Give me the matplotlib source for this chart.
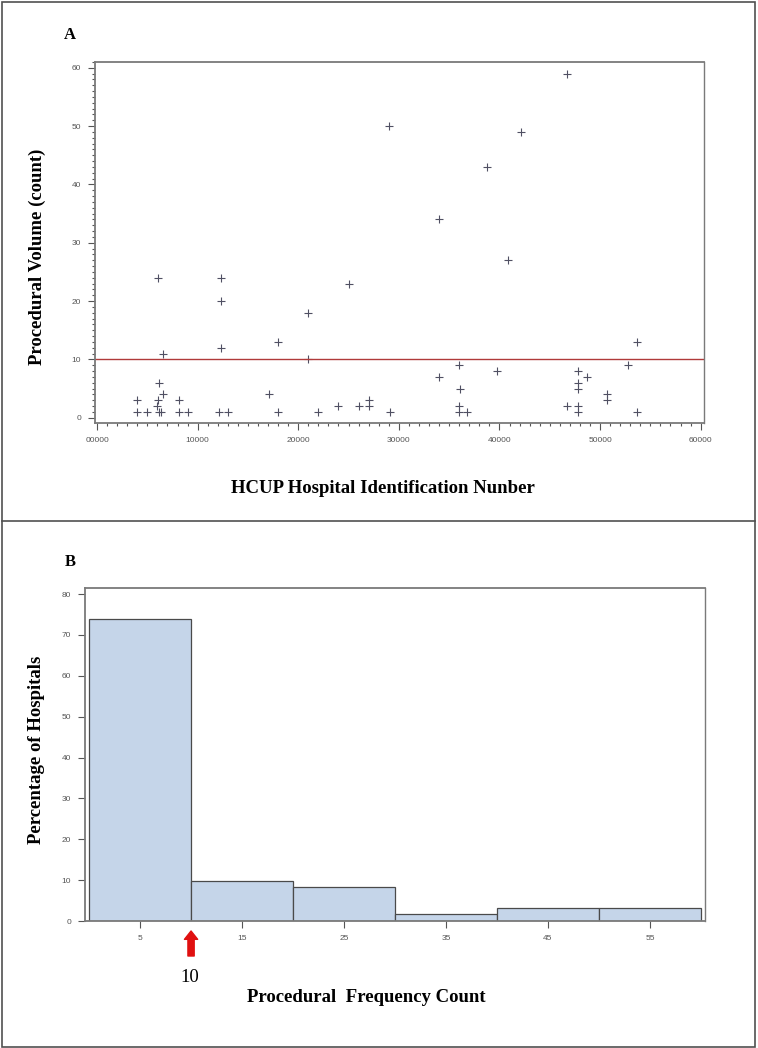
import numpy as np
import matplotlib
matplotlib.use("Agg")
import matplotlib.pyplot as plt
from matplotlib.ticker import MultipleLocator, FuncFormatter
from matplotlib.lines import Line2D
from matplotlib.patches import Rectangle

# panel A: hospital id vs procedural volume
hosp_id = [4000, 4000, 5000, 6100, 6200, 6100, 6000, 6200, 6400, 6600, 6600,
           8100, 8100, 9000, 12100, 12300, 12300, 12300, 13000, 17100, 18000,
           18000, 21000, 21000, 22000, 24000, 25000, 26000, 27000, 27000,
           29000, 29100, 34000, 34000, 36000, 36100, 36000, 36000, 36800,
           38800, 39800, 40800, 42100, 46700, 46700, 47800, 47800, 47800,
           47800, 47800, 48700, 50700, 50700, 52800, 53700, 53700]
volume = [3, 1, 1, 24, 6, 3, 2, 1, 1, 11, 4,
          3, 1, 1, 1, 24, 20, 12, 1, 4, 13,
          1, 18, 10, 1, 2, 23, 2, 3, 2,
          50, 1, 34, 7, 9, 5, 2, 1, 1,
          43, 8, 27, 49, 59, 2, 8, 6, 5,
          2, 1, 7, 4, 3, 9, 13, 1]
threshold = 10

# panel B: histogram of procedure counts
bin_left = [0, 10, 20, 30, 40, 50]
bin_width = 10
pct_hospitals = [73.8, 9.8, 8.2, 1.6, 3.3, 3.3]
bin_mid = [5, 15, 25, 35, 45, 55]

W, H = 758, 1048
fig = plt.figure(figsize=(W / 100, H / 100), dpi=100)

serif = ["Liberation Serif", "DejaVu Serif"]
sans = ["Liberation Sans", "DejaVu Sans"]
spine_col = "#7a7a7a"


def px(x, y):
    # pixel position (from top-left) -> figure fraction
    return x / W, 1 - y / H


def label(x, y, s, rot=0, size=13.5, weight="bold"):
    fig.text(*px(x, y), s, rotation=rot, ha="center", va="center",
             fontfamily=serif, fontweight=weight, fontsize=size)


def style_axes(ax):
    for s in ax.spines.values():
        s.set_color(spine_col)
        s.set_linewidth(1.3)
    ax.spines["right"].set_linewidth(1.0)
    ax.tick_params(which="both", direction="out", colors="#555555",
                   labelsize=6, width=0.8)
    ax.tick_params(which="major", length=5, pad=5)
    ax.tick_params(which="minor", length=2.5)
    for lab in ax.get_xticklabels() + ax.get_yticklabels():
        lab.set_fontfamily(sans)


# ---- panel A ----
axA = fig.add_axes([95 / W, (H - 423) / H, 609 / W, 361 / H])
axA.scatter(hosp_id, volume, marker="+", s=40, color="#505063", linewidths=0.8)
axA.axhline(threshold, color="#b03a3a", lw=1.0)
axA.set_xlim(-200, 60330)
axA.set_ylim(-0.9, 61)
axA.xaxis.set_major_locator(MultipleLocator(10000))
axA.xaxis.set_minor_locator(MultipleLocator(1000))
axA.yaxis.set_major_locator(MultipleLocator(10))
axA.yaxis.set_minor_locator(MultipleLocator(1))
axA.xaxis.set_major_formatter(FuncFormatter(lambda v, p: f"{int(v):05d}"))
style_axes(axA)

# ---- panel B ----
axB = fig.add_axes([85 / W, (H - 921) / H, 620 / W, 333 / H])
axB.bar(bin_left, pct_hospitals, width=bin_width, align="edge",
        color="#c5d5e9", edgecolor="#4a4a4a", linewidth=0.9)
axB.set_xlim(-0.4, 60.4)
axB.set_ylim(0, 81.5)
axB.set_xticks(bin_mid)
axB.yaxis.set_major_locator(MultipleLocator(10))
style_axes(axB)

# red arrow marking the threshold
axB.annotate("", xy=(threshold, H - 931), xytext=(threshold, H - 956),
             xycoords=("data", "figure pixels"),
             textcoords=("data", "figure pixels"),
             arrowprops=dict(arrowstyle="simple,head_length=0.6,head_width=0.95,tail_width=0.45",
                             color="#e01010", shrinkA=0, shrinkB=0))

# axis titles, placed as in the original layout
label(37, 257, "Procedural Volume (count)", rot=90)
label(383, 489, "HCUP Hospital Identification Nunber")
label(37, 750, "Percentage of Hospitals", rot=90)
label(366, 997, "Procedural  Frequency Count")
label(190, 978, str(threshold), weight="normal")

# panel letters
label(70, 35, "A", size=12)
label(70, 562, "B", size=12)

# outer frames
fig.patches.append(Rectangle((2 / W, 1 / H), 753 / W, 1045 / H, fill=False,
                             edgecolor="#505050", lw=1.2,
                             transform=fig.transFigure, figure=fig))
fig.lines.append(Line2D([2 / W, 755 / W], [1 - 521 / H, 1 - 521 / H],
                        color="#505050", lw=1.2, transform=fig.transFigure))

fig.savefig("out.png", dpi=100)
